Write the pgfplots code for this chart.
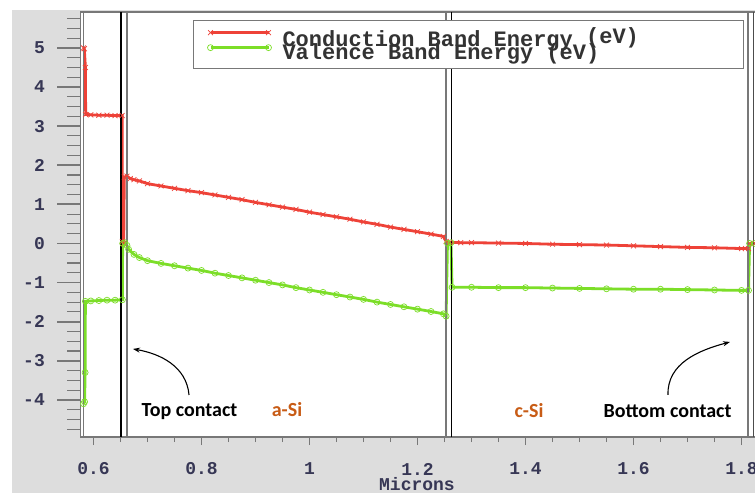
\documentclass[border=0pt]{standalone}
\usepackage{pgfplots}
\pgfplotsset{compat=1.18}
\usepackage{fontspec}
\setmonofont{Liberation Mono}
\newfontfamily\carlito{Carlito}
\usetikzlibrary{arrows.meta}
\definecolor{bggray}{RGB}{221,221,221}
\definecolor{cred}{RGB}{238,66,56}
\definecolor{cgreen}{RGB}{124,222,40}
\definecolor{tickc}{RGB}{55,55,85}
\definecolor{framec}{RGB}{120,120,120}
\definecolor{orng}{RGB}{200,92,22}
\pgfplotstableread{
x y
0.5815 5.00
0.5830 4.98
0.5850 4.50
0.5855 3.30
0.5950 3.29
0.6100 3.28
0.6250 3.28
0.6400 3.27
0.6530 3.27
0.6535 0.05
0.6560 0.00
0.6570 1.70
0.6620 1.72
0.6680 1.66
0.6750 1.63
0.6850 1.60
0.7000 1.53
0.7250 1.47
0.7500 1.41
0.7750 1.35
0.8000 1.30
0.8250 1.24
0.8500 1.18
0.8750 1.12
0.9000 1.05
0.9250 0.99
0.9500 0.93
0.9750 0.87
1.0000 0.80
1.0250 0.74
1.0500 0.68
1.0750 0.62
1.1000 0.55
1.1250 0.49
1.1500 0.42
1.1750 0.36
1.2000 0.30
1.2250 0.24
1.2480 0.18
1.2530 0.05
1.2600 0.03
1.2800 0.02
1.3000 0.02
1.3500 0.01
1.4000 0.00
1.4500 -0.02
1.5000 -0.03
1.5500 -0.04
1.6000 -0.06
1.6500 -0.08
1.7000 -0.10
1.7500 -0.11
1.8000 -0.13
1.8130 -0.13
1.8150 0.00
1.8250 0.00
}\cond
\pgfplotstableread{
x y
0.5815 -4.10
0.5835 -4.05
0.5845 -3.30
0.5850 -1.48
0.5950 -1.47
0.6100 -1.46
0.6250 -1.45
0.6400 -1.45
0.6535 -1.44
0.6540 0.00
0.6580 0.02
0.6620 -0.05
0.6650 -0.15
0.6750 -0.28
0.6850 -0.36
0.7000 -0.44
0.7250 -0.51
0.7500 -0.57
0.7750 -0.63
0.8000 -0.69
0.8250 -0.76
0.8500 -0.82
0.8750 -0.88
0.9000 -0.94
0.9250 -1.00
0.9500 -1.06
0.9750 -1.13
1.0000 -1.19
1.0250 -1.25
1.0500 -1.31
1.0750 -1.37
1.1000 -1.43
1.1250 -1.50
1.1500 -1.56
1.1750 -1.62
1.2000 -1.68
1.2250 -1.74
1.2480 -1.80
1.2530 -1.86
1.2555 0.00
1.2620 0.02
1.2640 -1.12
1.3000 -1.12
1.3500 -1.13
1.4000 -1.13
1.4500 -1.14
1.5000 -1.15
1.5500 -1.16
1.6000 -1.17
1.6500 -1.17
1.7000 -1.18
1.7500 -1.19
1.8000 -1.20
1.8130 -1.20
1.8150 0.00
1.8250 0.00
}\val
\begin{document}
\begin{tikzpicture}
\useasboundingbox (0,0) rectangle (755pt,-493pt);
\fill[white] (0,0) rectangle (755pt,-493pt);
\fill[bggray] (12pt,-10pt) rectangle (755pt,-493pt);
\begin{axis}[
  at={(80pt,-437pt)}, anchor=south west,
  scale only axis, width=675pt, height=425pt,
  xmin=0.575, xmax=1.825, ymin=-4.95, ymax=5.92,
  axis background/.style={fill=white},
  axis line style={draw=none},
  xtick={0.6,0.8,1,1.2,1.4,1.6,1.8},
  xticklabels={0.6,0.8,1,1.2,1.4,1.6,1.8},
  minor xtick={0.65,0.7,...,1.8},
  ytick=\empty,
  xtick pos=bottom, tick align=outside,
  major tick length=8pt, minor tick length=5pt,
  every major tick/.style={draw=framec, line width=1.6pt},
  every minor tick/.style={draw=framec, line width=1pt},
  xticklabel style={font=\ttfamily\bfseries\fontsize{18}{18}\selectfont, text=tickc, anchor=center, yshift=-24pt},
  clip=true,
  legend style={at={(rel axis cs:0.1674,0.9812)}, anchor=north west,
    draw=framec, line width=1pt, fill=white,
    inner xsep=14pt, inner ysep=5pt, row sep=-8pt, column sep=9pt,
    font=\ttfamily\bfseries\fontsize{22}{22}\selectfont, text=black!80},
  legend cell align=left,
  legend image code/.code={\draw[#1] plot coordinates {(0pt,5pt) (58pt,5pt)};},
]
\addplot[draw=cred, line width=2.8pt, mark=x, mark size=3.5pt, mark options={line width=0.7pt}] table {\cond};
\addlegendentry{\makebox[445pt][l]{Conduction Band Energy \raisebox{3pt}{(eV)}}}
\addplot[draw=cgreen, line width=2.8pt, mark=o, mark size=3pt, mark options={line width=0.7pt}] table {\val};
\addlegendentry{\makebox[445pt][l]{Valence Band Energy (eV)}}
% frame and interface lines
\draw[framec, line width=1.2pt] (axis cs:0.575,-4.95) -- (axis cs:0.575,5.92);
\draw[framec, line width=1.2pt] (axis cs:0.5815,-4.95) -- (axis cs:0.5815,5.92);
\draw[framec, line width=1.2pt] (axis cs:0.575,5.92) -- (axis cs:1.825,5.92);
\draw[framec, line width=1.4pt] (axis cs:0.575,-4.95) -- (axis cs:1.825,-4.95);
\draw[black, line width=1.2pt] (axis cs:0.651,-4.95) -- (axis cs:0.651,5.92);
\draw[framec, line width=1.6pt] (axis cs:0.6615,-4.95) -- (axis cs:0.6615,5.92);
\draw[framec, line width=1.6pt] (axis cs:1.2525,-4.95) -- (axis cs:1.2525,5.92);
\draw[black, line width=1.2pt] (axis cs:1.2635,-4.95) -- (axis cs:1.2635,5.92);
\draw[framec, line width=1.6pt] (axis cs:1.8125,-4.95) -- (axis cs:1.8125,5.92);
\draw[black!70, line width=1.2pt] (axis cs:1.822,-4.95) -- (axis cs:1.822,5.92);
% annotations
\node[anchor=base, font=\carlito\bfseries\fontsize{20}{22}\selectfont] at (axis cs:0.7778,-4.437) {Top contact};
\node[anchor=base, font=\carlito\bfseries\fontsize{20}{22}\selectfont, text=orng] at (axis cs:0.9583,-4.437) {a-Si};
\node[anchor=base, font=\carlito\bfseries\fontsize{20}{22}\selectfont, text=orng] at (axis cs:1.4065,-4.46) {c-Si};
\node[anchor=base, font=\carlito\bfseries\fontsize{20}{22}\selectfont] at (axis cs:1.663,-4.46) {Bottom contact};
\draw[-{Stealth[length=7pt,width=5pt]}, line width=1.1pt] (axis cs:0.7769,-3.875) to[out=95,in=-10] (axis cs:0.6731,-2.698);
\draw[-{Stealth[length=7pt,width=5pt]}, line width=1.1pt] (axis cs:1.6639,-3.875) to[out=92,in=195] (axis cs:1.7787,-2.519);
\end{axis}
\begin{axis}[
  at={(80pt,-437pt)}, anchor=south west,
  scale only axis, width=675pt, height=425pt,
  xmin=0.575, xmax=1.825, ymin=-4.95, ymax=5.92,
  axis line style={draw=none},
  xtick=\empty,
  ytick={-4,-3,-2,-1,0,1,2,3,4,5},
  yticklabels={-4,-3,-2,-1,0,1,2,3,4,5},
  minor ytick={-4.75,-4.5,...,5.8},
  ytick pos=left, tick align=outside,
  major tick length=23pt, minor tick length=13pt,
  every major tick/.style={draw=framec, line width=1.8pt},
  every minor tick/.style={draw=framec, line width=1.1pt},
  yticklabel style={font=\ttfamily\bfseries\fontsize{18}{18}\selectfont, text=tickc, anchor=east, inner sep=0pt, xshift=-12pt},
]
\end{axis}
\node[anchor=base, font=\ttfamily\bfseries\fontsize{18}{18}\selectfont, text=tickc] at (417pt,-490pt) {Microns};
\end{tikzpicture}
\end{document}
